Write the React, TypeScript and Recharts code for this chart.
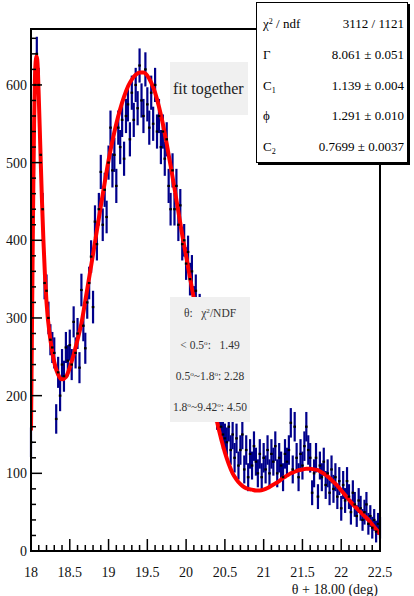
import React from 'react';
import { ComposedChart, XAxis, YAxis, Scatter, Line, ErrorBar } from 'recharts';

const thetaValues = [
  18.000, 18.025, 18.050, 18.075, 18.100, 18.125, 18.150, 18.175, 18.200, 18.225,
  18.250, 18.275, 18.300, 18.325, 18.350, 18.375, 18.400, 18.425, 18.450, 18.475,
  18.500, 18.525, 18.550, 18.575, 18.600, 18.625, 18.650, 18.675, 18.700, 18.725,
  18.750, 18.775, 18.800, 18.825, 18.850, 18.875, 18.900, 18.925, 18.950, 18.975,
  19.000, 19.025, 19.050, 19.075, 19.100, 19.125, 19.150, 19.175, 19.200, 19.225,
  19.250, 19.275, 19.300, 19.325, 19.350, 19.375, 19.400, 19.425, 19.450, 19.475,
  19.500, 19.525, 19.550, 19.575, 19.600, 19.625, 19.650, 19.675, 19.700, 19.725,
  19.750, 19.775, 19.800, 19.825, 19.850, 19.875, 19.900, 19.925, 19.950, 19.975,
  20.000, 20.025, 20.050, 20.075, 20.100, 20.125, 20.150, 20.175, 20.200, 20.225,
  20.250, 20.275, 20.300, 20.325, 20.350, 20.375, 20.400, 20.425, 20.450, 20.475,
  20.500, 20.525, 20.550, 20.575, 20.600, 20.625, 20.650, 20.675, 20.700, 20.725,
  20.750, 20.775, 20.800, 20.825, 20.850, 20.875, 20.900, 20.925, 20.950, 20.975,
  21.000, 21.025, 21.050, 21.075, 21.100, 21.125, 21.150, 21.175, 21.200, 21.225,
  21.250, 21.275, 21.300, 21.325, 21.350, 21.375, 21.400, 21.425, 21.450, 21.475,
  21.500, 21.525, 21.550, 21.575, 21.600, 21.625, 21.650, 21.675, 21.700, 21.725,
  21.750, 21.775, 21.800, 21.825, 21.850, 21.875, 21.900, 21.925, 21.950, 21.975,
  22.000, 22.025, 22.050, 22.075, 22.100, 22.125, 22.150, 22.175, 22.200, 22.225,
  22.250, 22.275, 22.300, 22.325, 22.350, 22.375, 22.400, 22.425, 22.450, 22.475,
  22.500,
];

const countValues = [
  140, 430, 600, 640, 600, 510, 440, 345, 335, 300,
  272, 262, 255, 170, 230, 200, 240, 225, 262, 245,
  265, 240, 295, 255, 280, 236, 336, 290, 261, 320,
  345, 379, 314, 424, 395, 440, 488, 420, 465, 430,
  500, 545, 490, 510, 470, 545, 520, 555, 505, 560,
  575, 530, 590, 555, 600, 570, 625, 580, 560, 620,
  575, 545, 590, 550, 600, 540, 560, 520, 540, 505,
  530, 470, 440, 490, 440, 470, 420, 445, 395, 400,
  370, 385, 350, 360, 320, 335, 300, 310, 290, 265,
  255, 240, 225, 210, 200, 185, 175, 170, 160, 150,
  145, 140, 160, 130, 150, 120, 145, 110, 130, 150,
  105, 130, 95, 125, 110, 135, 115, 100, 125, 95,
  120, 105, 130, 100, 125, 115, 135, 100, 120, 110,
  95, 125, 115, 130, 165, 105, 160, 120, 95, 125,
  110, 135, 160, 130, 120, 75, 100, 120, 70, 110,
  95, 115, 85, 100, 75, 105, 80, 95, 70, 90,
  55, 85, 65, 90, 70, 50, 75, 60, 45, 65,
  55, 40, 50, 60, 35, 45, 30, 40, 25, 35,
  30,
];

const errorValues = [
  19, 21, 22, 22, 22, 22, 21, 21, 21, 21,
  20, 20, 20, 19, 20, 20, 20, 20, 20, 20,
  20, 20, 20, 20, 20, 20, 21, 20, 20, 21,
  21, 21, 21, 21, 21, 21, 22, 21, 22, 21,
  22, 22, 22, 22, 22, 22, 22, 22, 22, 22,
  22, 22, 22, 22, 22, 22, 22, 22, 22, 22,
  22, 22, 22, 22, 22, 22, 22, 22, 22, 22,
  22, 22, 21, 22, 21, 22, 21, 21, 21, 21,
  21, 21, 21, 21, 21, 21, 21, 21, 20, 20,
  20, 20, 20, 20, 20, 19, 19, 19, 19, 19,
  19, 19, 19, 19, 19, 19, 19, 18, 19, 19,
  18, 19, 18, 19, 18, 19, 18, 18, 19, 18,
  19, 18, 19, 18, 19, 18, 19, 18, 19, 18,
  18, 19, 18, 19, 19, 18, 19, 19, 18, 19,
  18, 19, 19, 19, 19, 16, 18, 19, 16, 18,
  18, 18, 18, 18, 16, 18, 18, 18, 16, 18,
  16, 18, 16, 18, 16, 16, 16, 16, 14, 16,
  16, 14, 16, 16, 14, 14, 14, 14, 14, 14,
  14,
];

const fitTheta = [
  18.00, 18.01, 18.02, 18.03, 18.04, 18.05, 18.06, 18.07, 18.08, 18.09, 18.10,
  18.12, 18.14, 18.16, 18.18, 18.20,
  18.25, 18.30, 18.35, 18.40, 18.45, 18.50, 18.55, 18.60, 18.65, 18.70, 18.75, 18.80, 18.85, 18.90, 18.95, 19.00,
  19.05, 19.10, 19.15, 19.20, 19.25, 19.30, 19.35, 19.40, 19.45, 19.50, 19.55, 19.60, 19.65, 19.70, 19.75, 19.80, 19.85, 19.90, 19.95, 20.00,
  20.05, 20.10, 20.15, 20.20, 20.25, 20.30, 20.35, 20.40, 20.45, 20.50, 20.55, 20.60, 20.65, 20.70, 20.75, 20.80, 20.85, 20.90, 20.95, 21.00,
  21.05, 21.10, 21.15, 21.20, 21.25, 21.30, 21.35, 21.40, 21.45, 21.50, 21.55, 21.60, 21.65, 21.70, 21.75, 21.80, 21.85, 21.90, 21.95, 22.00,
  22.05, 22.10, 22.15, 22.20, 22.25, 22.30, 22.35, 22.40, 22.45, 22.50,
];

const fitCounts = [
  155, 260, 370, 470, 550, 605, 630, 637, 633, 615, 585,
  520, 455, 400, 355, 320,
  272, 243, 227, 221, 224, 236, 253, 272, 293, 322, 352, 382, 413, 444, 474, 503,
  528, 550, 569, 585, 598, 607, 613, 616, 616, 612, 603, 590, 572, 550, 524, 496, 467, 437, 407, 380,
  352, 325, 297, 270, 242, 215, 190, 166, 145, 127, 112, 100, 92, 86, 82, 80, 79, 78, 78, 79,
  81, 84, 87, 90, 94, 97, 100, 102, 104, 105, 106, 106, 105, 104, 101, 98, 94, 89, 84, 78,
  72, 66, 60, 55, 50, 45, 40, 34, 28, 22,
];

const xTicks = [
  18, 18.1, 18.2, 18.3, 18.4, 18.5, 18.6, 18.7, 18.8, 18.9,
  19, 19.1, 19.2, 19.3, 19.4, 19.5, 19.6, 19.7, 19.8, 19.9,
  20, 20.1, 20.2, 20.3, 20.4, 20.5, 20.6, 20.7, 20.8, 20.9,
  21, 21.1, 21.2, 21.3, 21.4, 21.5, 21.6, 21.7, 21.8, 21.9,
  22, 22.1, 22.2, 22.3, 22.4, 22.5,
];
const xMajorLabels = ['18', '18.5', '19', '19.5', '20', '20.5', '21', '21.5', '22', '22.5'];

const yTicks = [
  0, 20, 40, 60, 80, 100, 120, 140, 160, 180, 200, 220, 240, 260, 280, 300, 320, 340,
  360, 380, 400, 420, 440, 460, 480, 500, 520, 540, 560, 580, 600, 620, 640, 660,
];
const yMajorLabels = ['0', '100', '200', '300', '400', '500', '600'];

const statLabels = ['χ2 / ndf', 'Γ', 'C1', 'ϕ', 'C2'];
const statValues = ['3112 / 1121', '8.061 ± 0.051', '1.139 ± 0.004', '1.291 ± 0.010', '0.7699 ± 0.0037'];

const ndfRows = [
  ['θ:', 'χ2/NDF'],
  ['< 0.5o:', '1.49'],
  ['0.5o~1.8o:', '2.28'],
  ['1.8o~9.42o:', '4.50'],
];

const FONT = "'Liberation Serif', 'Times New Roman', serif";

const scatterData = thetaValues.map((t, i) => ({ x: t, y: countValues[i], err: errorValues[i] }));
const fitData = fitTheta.map((t, i) => ({ x: t, y: fitCounts[i] }));

const PLOT_BOTTOM = 551;
const PLOT_LEFT = 31;

const XTick = (props: any) => {
  const { x, payload } = props;
  const y = PLOT_BOTTOM;
  const v = payload.value as number;
  const major = Math.abs(v * 2 - Math.round(v * 2)) < 1e-6;
  const label = xMajorLabels.find((l) => Math.abs(parseFloat(l) - v) < 1e-6);
  return (
    <g>
      <line x1={x} x2={x} y1={y} y2={y - (major ? 12 : 6)} stroke="#000" strokeWidth={1.5} />
      {major && label && (
        <text x={x} y={y + 26} textAnchor="middle" fontSize={14} fontFamily={FONT} fill="#111">
          {label}
        </text>
      )}
    </g>
  );
};

const YTick = (props: any) => {
  const { y, payload } = props;
  const x = PLOT_LEFT;
  const v = payload.value as number;
  const major = v % 100 === 0;
  const label = yMajorLabels.find((l) => parseFloat(l) === v);
  return (
    <g>
      <line x1={x} x2={x + (major ? 11 : 5)} y1={y} y2={y} stroke="#000" strokeWidth={1.5} />
      {major && label && (
        <text x={x - 4} y={y + 5} textAnchor="end" fontSize={14} fontFamily={FONT} fill="#111">
          {label}
        </text>
      )}
    </g>
  );
};

const dotShape = (props: any) => {
  const { cx, cy } = props;
  return <rect x={cx - 1.3} y={cy - 1.1} width={2.6} height={2.2} fill="#000" />;
};
const noShape = () => <g />;

const Sup = ({ children }: { children: React.ReactNode }) => (
  <span style={{ fontSize: '0.62em', position: 'relative', top: '-0.55em' }}>{children}</span>
);
const Sub = ({ children }: { children: React.ReactNode }) => (
  <span style={{ fontSize: '0.62em', position: 'relative', top: '0.35em' }}>{children}</span>
);

const renderMarked = (s: string) => {
  const out: React.ReactNode[] = [];
  for (let i = 0; i < s.length; i++) {
    const c = s[i];
    const prev = s[i - 1];
    if (c === 'o' && prev && /[0-9]/.test(prev)) out.push(<Sup key={i}>o</Sup>);
    else if (c === '2' && prev === 'χ') out.push(<Sup key={i}>2</Sup>);
    else out.push(c);
  }
  return out;
};

const renderStatLabel = (s: string) => {
  if (s.startsWith('χ2')) return (<span>χ<Sup>2</Sup>{s.slice(2)}</span>);
  if (s === 'C1' || s === 'C2') return (<span>C<Sub>{s[1]}</Sub></span>);
  return <span>{s}</span>;
};

export default function App() {
  const statRowY = [24, 55, 86, 116, 147];
  const ndfRowY = [313, 345, 376, 407];
  return (
    <div style={{ position: 'absolute', left: 0, top: 0, width: 414, height: 596, background: '#fff', overflow: 'hidden', fontFamily: FONT }}>
      <ComposedChart width={414} height={596} margin={{ top: 29, right: 34, bottom: 44, left: 30 }}>
        <XAxis
          dataKey="x"
          type="number"
          domain={[18, 22.5]}
          ticks={xTicks}
          interval={0}
          allowDataOverflow
          height={1}
          axisLine={false}
          tickLine={false}
          tickSize={0}
          tickMargin={0}
          tick={<XTick />}
        />
        <YAxis
          type="number"
          domain={[0, 672]}
          ticks={yTicks}
          interval={0}
          allowDataOverflow
          width={1}
          axisLine={false}
          tickLine={false}
          tickSize={0}
          tickMargin={0}
          tick={<YTick />}
        />
        <Scatter data={scatterData} dataKey="y" isAnimationActive={false} shape={noShape}>
          <ErrorBar dataKey="err" direction="y" width={0} stroke="#00008b" strokeWidth={2.2} style={{ strokeWidth: 2.2 }} />
        </Scatter>
        <Scatter data={scatterData} dataKey="y" isAnimationActive={false} shape={dotShape} />
        <Line data={fitData} dataKey="y" type="monotone" stroke="#ff0000" strokeWidth={4} dot={false} isAnimationActive={false} />
      </ComposedChart>

      <div style={{ position: 'absolute', left: 30, top: 28, width: 351, height: 524, border: '2px solid #000', boxSizing: 'border-box', pointerEvents: 'none' }} />

      <div style={{ position: 'absolute', left: 170, top: 62, width: 78, height: 53, background: '#f0f0f0', color: '#222', fontSize: 16, lineHeight: '53px', paddingLeft: 3, boxSizing: 'border-box', whiteSpace: 'nowrap' }}>
        fit together
      </div>

      <div style={{ position: 'absolute', left: 170, top: 297, width: 80, height: 125, background: '#f0f0f0' }} />
      {ndfRows.map((r, i) => (
        <div key={i} style={{ position: 'absolute', left: 160, width: 100, top: ndfRowY[i] - 8, height: 16, lineHeight: '16px', textAlign: 'center', fontSize: 11.5, color: '#333', whiteSpace: 'nowrap' }}>
          {renderMarked(r[0])}{i === 0 ? '\u00a0\u00a0\u00a0' : i === 1 ? '\u00a0\u00a0 ' : ' '}{renderMarked(r[1])}
        </div>
      ))}

      <div style={{ position: 'absolute', left: 256, top: 2, width: 152, height: 161, background: '#fff', border: '1px solid #000', boxShadow: '2px 2px 0 #000', boxSizing: 'border-box' }} />
      {statLabels.map((l, i) => (
        <div key={'l' + i} style={{ position: 'absolute', left: 263, top: statRowY[i] - 9, height: 18, lineHeight: '18px', fontSize: 13, color: '#000', whiteSpace: 'nowrap' }}>
          {renderStatLabel(l)}
        </div>
      ))}
      {statValues.map((v, i) => (
        <div key={'v' + i} style={{ position: 'absolute', left: 260, width: 144, top: statRowY[i] - 9, height: 18, lineHeight: '18px', fontSize: 13, color: '#000', textAlign: 'right', whiteSpace: 'nowrap' }}>
          {v}
        </div>
      ))}

      <div style={{ position: 'absolute', left: 0, width: 378, top: 582, height: 16, lineHeight: '16px', textAlign: 'right', fontSize: 14, color: '#111', whiteSpace: 'nowrap' }}>
        θ + 18.00 (deg)
      </div>
    </div>
  );
}
